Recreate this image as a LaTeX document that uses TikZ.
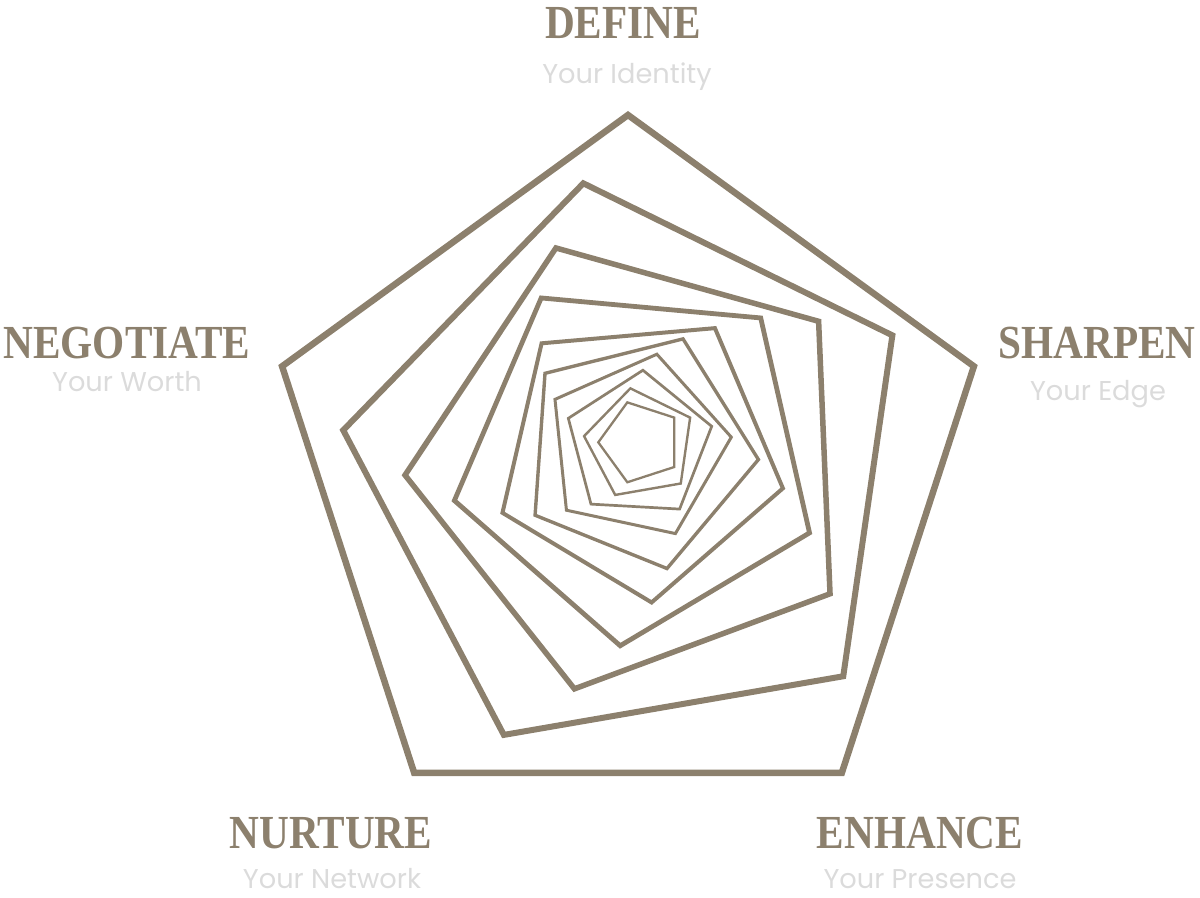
\documentclass[tikz,border=0pt]{standalone}
\usepackage{fontspec}
\setmainfont{Liberation Serif}
\newfontfamily\subfont{Poppins}
\definecolor{taupe}{RGB}{140,128,109}

\begin{document}
\begin{tikzpicture}[x=0.02cm, y=-0.02cm, line join=miter,
    title/.style={text=taupe, font=\fontsize{27}{27}\selectfont\bfseries,
        inner sep=0pt, anchor=base, xscale=0.87},
    subtitle/.style={text=black!14, font=\subfont\fontsize{15.5}{15.5}\selectfont,
        inner sep=0pt, anchor=base}]

    % 描画範囲
    \useasboundingbox (0,0) rectangle (1200,897);

    % 五角形の描画 (中心x / 中心y / 半径 / 回転角 / 線幅)
    \foreach \cx/\cy/\R/\a/\w in {
        628/478.7/363.7/90/6.5,
        633.2/472/293/99.8/6,
        636.8/465.4/232/110.4/5.5,
        637.2/459/187.5/120.8/4.8,
        638.7/455/148/131/4,
        637.7/451.1/121/140/3.4,
        637/446.9/94.8/149.9/3,
        638.7/445.6/75.5/158.8/2.7,
        640.1/444.1/56.6/171.9/2.4,
        640.3/442.3/42/180/2.3} {
        \foreach \k in {0,...,4}
            \coordinate (p\k) at ({\cx+\R*cos(\a+72*\k)}, {\cy-\R*sin(\a+72*\k)});
        \draw [taupe, line width=\w*0.569pt] (p0) -- (p1) -- (p2) -- (p3) -- (p4) -- cycle;
    }

    % ラベル
    \node[title] (define) at (623,38) {DEFINE};
    \node[subtitle] (identity) at (627,83) {Your Identity};
    \node[title] (sharpen) at (1097,358) {SHARPEN};
    \node[subtitle] (edge) at (1098,400) {Your Edge};
    \node[title] (enhance) at (920,848) {ENHANCE};
    \node[subtitle] (presence) at (920,888) {Your Presence};
    \node[title] (nurture) at (331,848) {NURTURE};
    \node[subtitle] (network) at (332,888) {Your Network};
    \node[title] (negotiate) at (127,358) {NEGOTIATE};
    \node[subtitle] (worth) at (127,391) {Your Worth};

\end{tikzpicture}
\end{document}
